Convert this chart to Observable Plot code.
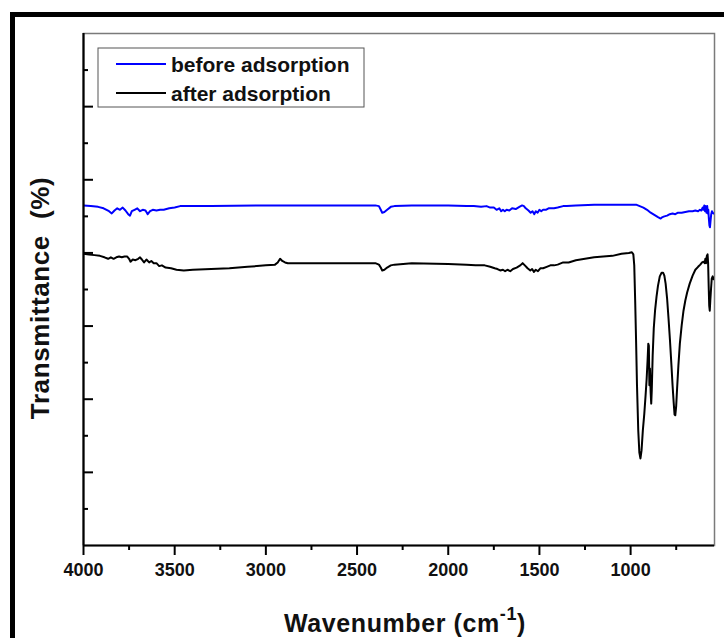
<!DOCTYPE html>
<html><head><meta charset="utf-8">
<script src="https://cdn.jsdelivr.net/npm/d3@7"></script>
<script src="https://cdn.jsdelivr.net/npm/@observablehq/plot@0.6"></script>
<style>
body{margin:0;background:#fff}
#chart{width:724px;height:638px;overflow:hidden}
</style>
</head><body><div id="chart"></div>
<script>
// Wavenumber (cm-1) and transmittance (arbitrary units)
const beforeWn = [4000,3960,3920,3890,3860,3845,3830,3815,3800,3785,3770,3755,3745,3735,3720,3705,3690,3675,3660,3648,3635,3620,3600,3580,3560,3530,3500,3470,3400,3300,3000,2800,2500,2400,2380,2370,2362,2350,2335,2315,2295,2200,2000,1900,1860,1820,1790,1770,1750,1735,1720,1710,1700,1690,1680,1665,1650,1630,1610,1595,1585,1575,1560,1548,1538,1528,1520,1510,1500,1490,1480,1465,1450,1420,1400,1370,1350,1300,1200,1100,1000,970,950,930,910,890,870,850,835,825,815,800,785,770,755,740,720,700,680,660,645,630,620,612,605,600,596,592,588,584,580,577,574,571,568,565,562,558,554,550,545];
const beforeT = [46.5,46.4,46.3,46.1,45.7,45.4,45.8,46.1,45.9,46.2,45.8,45.3,45.1,45.7,45.9,46.1,45.7,45.9,45.8,45.3,45.7,45.9,45.8,45.9,45.9,46.1,46.2,46.4,46.4,46.4,46.5,46.5,46.5,46.5,46.4,45.9,45.5,45.6,45.9,46.3,46.4,46.5,46.5,46.4,46.4,46.3,46.4,46.2,46.2,45.9,46.1,45.7,45.9,45.7,45.9,45.8,46.1,46.0,46.3,46.5,46.4,46.1,45.8,45.5,45.7,45.3,45.7,45.5,45.9,45.7,45.9,45.9,46.1,46.1,46.2,46.4,46.4,46.5,46.6,46.6,46.6,46.6,46.4,46.2,45.9,45.5,45.2,44.9,44.7,44.9,45.0,45.1,45.3,45.4,45.3,45.5,45.5,45.6,45.7,45.7,45.8,45.7,45.9,45.8,46.2,45.9,46.5,45.7,46.4,45.5,46.4,45.4,45.9,44.7,43.8,43.5,44.3,45.3,45.7,45.5,45.4];

const afterWn = [4000,3970,3940,3910,3885,3865,3850,3835,3820,3805,3790,3775,3760,3750,3742,3730,3715,3700,3690,3680,3668,3655,3640,3628,3615,3600,3585,3570,3550,3520,3490,3450,3400,3300,3200,3100,3000,2950,2935,2922,2910,2895,2880,2800,2600,2400,2380,2370,2362,2350,2335,2315,2295,2200,2000,1900,1850,1800,1770,1745,1730,1715,1700,1688,1675,1660,1645,1625,1605,1592,1580,1565,1550,1540,1530,1520,1508,1495,1480,1460,1440,1420,1400,1370,1340,1300,1250,1200,1150,1100,1050,1010,993,985,980,975,970,965,958,952,946,940,933,925,918,912,907,903,900,897,894,890,887,884,879,873,866,858,850,840,830,822,815,808,800,792,784,776,770,764,759,755,750,745,738,730,720,710,700,690,676,660,645,630,618,608,600,594,590,586,582,578,575,572,569,566,563,559,555,550,545];
const afterT = [39.9,39.8,39.7,39.6,39.4,39.2,39.4,39.2,39.4,39.5,39.4,39.5,39.5,39.2,38.8,39.1,39.0,39.2,39.4,39.1,38.7,39.1,38.7,38.9,38.6,38.6,38.2,38.3,38.0,37.9,37.7,37.6,37.7,37.8,37.9,38.1,38.3,38.4,38.7,39.2,38.9,38.7,38.6,38.6,38.6,38.6,38.4,38.0,37.6,37.7,38.0,38.3,38.4,38.6,38.5,38.4,38.3,38.3,38.1,37.9,37.8,37.6,37.7,37.5,37.7,37.5,37.8,38.0,38.3,38.6,38.3,37.9,37.6,37.8,37.4,37.7,37.5,37.9,37.9,38.1,38.3,38.3,38.4,38.7,38.7,39.0,39.2,39.4,39.5,39.6,39.9,40.0,40.1,39.8,38.3,33.5,28.0,21.9,15.7,12.7,11.9,13.0,15.7,18.0,20.5,22.8,25.3,27.6,27.3,21.9,24.2,20.9,19.4,21.2,26.0,29.7,32.1,34.0,35.5,36.8,37.3,37.3,36.9,35.8,33.8,31.0,28.0,24.6,21.9,19.6,17.9,17.8,19.1,21.5,24.6,27.6,30.1,32.1,33.5,34.6,35.8,36.9,37.7,38.1,38.4,38.7,38.8,38.6,39.2,38.6,39.6,39.8,38.6,35.5,32.8,32.1,33.5,35.1,36.5,36.8,36.4];

const seriesNames = ["before adsorption", "after adsorption"];
const seriesColors = ["#0000ff", "#000000"];

const xMajor = [4000,3500,3000,2500,2000,1500,1000];
const xMinor = [3750,3250,2750,2250,1750,1250,750];
const yMajor = [10,20,30,40,50,60];
const yMinor = [5,15,25,35,45,55,65];

const xTitle = "Wavenumber (cm";
const xTitleSup = "-1";
const yTitle = "Transmittance";
const yTitleUnit = "(%)";

const before = beforeWn.map((w, i) => ({wn: w, t: beforeT[i]}));
const after = afterWn.map((w, i) => ({wn: w, t: afterT[i]}));

const font = "'Liberation Sans', Arial, sans-serif";

const svg = Plot.plot({
  width: 724, height: 638,
  marginLeft: 83, marginRight: 10, marginTop: 33, marginBottom: 93,
  style: {fontFamily: font, background: "#fff", color: "#000", overflow: "visible"},
  x: {domain: [4000, 540], axis: null, label: null},
  y: {domain: [0, 70], axis: null, label: null},
  marks: [
    Plot.frame({stroke: "#7a7a7a", strokeWidth: 1.5}),
    Plot.line(before, {x: "wn", y: "t", stroke: seriesColors[0], strokeWidth: 2, clip: true}),
    Plot.line(after, {x: "wn", y: "t", stroke: seriesColors[1], strokeWidth: 2, clip: true}),
    Plot.ruleX([4000], {stroke: "#000", strokeWidth: 2.2}),
    Plot.ruleY([0], {stroke: "#000", strokeWidth: 2.2}),
    Plot.axisX({ticks: xMajor, tickSize: 10, tickPadding: 8, tickFormat: d => String(d), fontSize: 18, fontWeight: "bold", strokeWidth: 2, label: null}),
    Plot.axisX({ticks: xMinor, tickSize: 5, tickFormat: () => "", strokeWidth: 2, label: null}),
    Plot.axisY({ticks: yMajor, tickSize: -10, tickFormat: () => "", strokeWidth: 2, label: null}),
    Plot.axisY({ticks: yMinor, tickSize: -5, tickFormat: () => "", strokeWidth: 2, label: null})
  ]
});

const s = d3.select(svg);
s.selectAll("text").style("font-weight", "bold").attr("fill", "#111");

// outer black frame (left & top visible)
s.append("path").attr("d", "M12.5,638V14.5H724").attr("fill", "none").attr("stroke", "#000").attr("stroke-width", 5);

// x title
const xt = s.append("text").attr("x", 405).attr("y", 632).attr("text-anchor", "middle")
  .style("font-family", font).style("font-weight", "bold").style("font-size", "25px")
  .style("letter-spacing", "0.6px").attr("fill", "#111");
xt.append("tspan").text(xTitle);
xt.append("tspan").attr("dy", -12).style("font-size", "18px").text(xTitleSup);
xt.append("tspan").attr("dy", 12).text(")");

// y title
const yt = s.append("text").attr("transform", "translate(49,298) rotate(-90)").attr("text-anchor", "middle")
  .style("font-family", font).style("font-weight", "bold").style("font-size", "26px")
  .style("letter-spacing", "0.6px").attr("fill", "#111");
yt.append("tspan").text(yTitle);
yt.append("tspan").attr("dx", 16).text(yTitleUnit);

// legend
const lg = s.append("g").attr("text-anchor", "start");
lg.append("rect").attr("x", 98).attr("y", 48).attr("width", 266).attr("height", 59)
  .attr("fill", "#fff").attr("stroke", "#555").attr("stroke-width", 1);
seriesNames.forEach((name, i) => {
  const y = 64 + i * 29;
  lg.append("line").attr("x1", 116).attr("x2", 166).attr("y1", y).attr("y2", y)
    .attr("stroke", seriesColors[i]).attr("stroke-width", 2);
  lg.append("text").attr("x", 171).attr("y", y + 8).attr("text-anchor", "start").text(name)
    .style("font-family", font).style("font-weight", "bold").style("font-size", "21px").attr("fill", "#111");
});

document.getElementById("chart").appendChild(svg);
</script>
</body></html>
